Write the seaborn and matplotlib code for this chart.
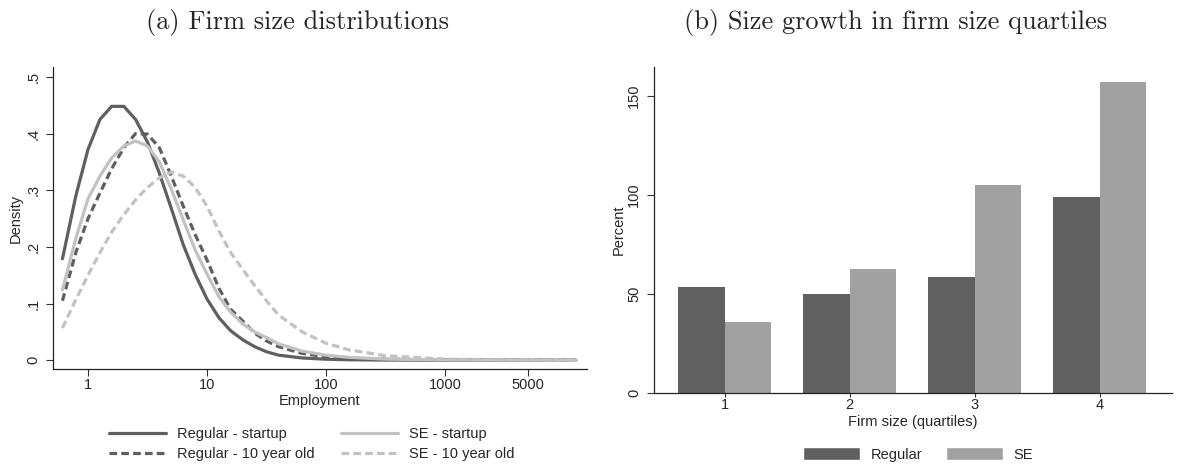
import numpy as np
import pandas as pd
import matplotlib
matplotlib.use("Agg")
import matplotlib.pyplot as plt
import seaborn as sns
from matplotlib.patches import Patch

# ---------------- data ----------------
employment = [0.61, 0.79, 1.0, 1.26, 1.58, 2.0, 2.51, 3.16, 3.98, 5.01, 6.31, 7.94,
              10.0, 12.6, 15.8, 20.0, 25.1, 31.6, 39.8, 63.1, 100, 158, 316, 1000, 3162, 12600]
regular_startup = [0.179, 0.29, 0.372, 0.425, 0.448, 0.448, 0.425, 0.385, 0.33, 0.268, 0.204, 0.152,
                   0.108, 0.075, 0.052, 0.036, 0.024, 0.015, 0.009, 0.004, 0.0018, 0.0008, 0.0003, 0.0001, 0.0, 0.0]
regular_10yr = [0.105, 0.19, 0.25, 0.295, 0.338, 0.375, 0.40, 0.399, 0.375, 0.325, 0.272, 0.222,
                0.177, 0.127, 0.09, 0.069, 0.048, 0.034, 0.024, 0.012, 0.006, 0.0035, 0.002, 0.0006, 0.0002, 0.0]
se_startup = [0.124, 0.215, 0.285, 0.325, 0.357, 0.378, 0.387, 0.378, 0.35, 0.302, 0.248, 0.195,
              0.152, 0.112, 0.085, 0.064, 0.05, 0.04, 0.029, 0.016, 0.009, 0.005, 0.002, 0.0006, 0.0002, 0.0]
se_10yr = [0.057, 0.107, 0.15, 0.19, 0.226, 0.257, 0.283, 0.305, 0.322, 0.332, 0.325, 0.305,
           0.272, 0.228, 0.19, 0.16, 0.132, 0.105, 0.08, 0.05, 0.03, 0.018, 0.008, 0.002, 0.0007, 0.0]

quartiles = ["1", "2", "3", "4"]
regular_growth = [53.6, 50.1, 58.6, 98.9]
se_growth = [35.9, 62.7, 105.0, 156.9]

emp_ticks = [1, 10, 100, 1000, 5000]
density_ticks = [0, 0.1, 0.2, 0.3, 0.4, 0.5]
density_labels = ["0", ".1", ".2", ".3", ".4", ".5"]
percent_ticks = [0, 50, 100, 150]

# ---------------- style ----------------
sns.set_style("white")
plt.rcParams["font.family"] = ["Liberation Sans", "DejaVu Sans"]

W, H = 1196, 465
fig = plt.figure(figsize=(W / 100, H / 100), dpi=100)

def box(x0, y0, x1, y1):
    return [x0 / W, 1 - y1 / H, (x1 - x0) / W, (y1 - y0) / H]

ax1 = fig.add_axes(box(53, 66.7, 587, 369.3))
ax2 = fig.add_axes(box(654.3, 66.7, 1172, 393.3))

DARK = "#5f5f5f"
LIGHT = "#c2c2c2"
LW = 2.3
DASH = (2.4, 1.3)

series = [
    ("Regular - startup", regular_startup, DARK, None),
    ("Regular - 10 year old", regular_10yr, DARK, DASH),
    ("SE - startup", se_startup, LIGHT, None),
    ("SE - 10 year old", se_10yr, LIGHT, DASH),
]
handles = []
for name, vals, col, dash in series:
    df = pd.DataFrame({"Employment": employment, "Density": vals})
    sns.lineplot(data=df, x="Employment", y="Density", ax=ax1, color=col,
                 linewidth=LW, estimator=None, sort=False)
    ln = ax1.lines[-1]
    if dash is not None:
        ln.set_dashes(dash)
    ln.set_label(name)
    handles.append(ln)
if ax1.get_legend() is not None:
    ax1.get_legend().remove()

ax1.set_xscale("log")
ax1.set_xlim(0.508, 15600)
ax1.set_ylim(-0.016, 0.518)
ax1.set_xticks(emp_ticks)
ax1.set_xticklabels([str(t) for t in emp_ticks])
ax1.xaxis.set_minor_locator(matplotlib.ticker.NullLocator())
ax1.set_yticks(density_ticks)
ax1.set_yticklabels(density_labels, rotation=90, va="center")
ax1.set_xlabel("Employment", fontsize=10.5)
ax1.set_ylabel("Density", fontsize=10.5)
ax1.xaxis.set_label_coords(0.5, -0.08)
ax1.yaxis.set_label_coords(-0.056, 0.5)
ax1.tick_params(axis="both", which="major", labelsize=10.5, length=5, width=0.8,
                direction="out", left=True, bottom=True, color="#333333")
ax1.tick_params(axis="y", pad=4)
ax1.tick_params(axis="x", pad=1.5)
for s in ["top", "right"]:
    ax1.spines[s].set_visible(False)
for s in ["left", "bottom"]:
    ax1.spines[s].set_color("#222222")
    ax1.spines[s].set_linewidth(0.9)

fig.legend(handles=handles, labels=[h.get_label() for h in handles],
           ncol=2, loc="upper left", bbox_to_anchor=(109 / W, 1 - 427 / H),
           frameon=False, fontsize=10.5, handlelength=3.9, handletextpad=0.75,
           columnspacing=1.85, labelspacing=0.4, borderpad=0, borderaxespad=0)

# ---------------- bars ----------------
bdf = pd.DataFrame({
    "Quartile": quartiles * 2,
    "Percent": regular_growth + se_growth,
    "Type": ["Regular"] * 4 + ["SE"] * 4,
})
sns.barplot(data=bdf, x="Quartile", y="Percent", hue="Type", ax=ax2,
            palette={"Regular": "#606060", "SE": "#a1a1a1"}, width=0.744,
            saturation=1, legend=False, errorbar=None, linewidth=0)
ax2.set_xlim(-0.563, 3.58)
ax2.set_ylim(0, 164.6)
ax2.set_yticks(percent_ticks)
ax2.set_yticklabels([str(t) for t in percent_ticks], rotation=90, va="center")
ax2.set_xlabel("Firm size (quartiles)", fontsize=10.5)
ax2.set_ylabel("Percent", fontsize=10.5)
ax2.xaxis.set_label_coords(0.5, -0.066)
ax2.yaxis.set_label_coords(-0.055, 0.5)
ax2.tick_params(axis="both", which="major", labelsize=10.5, length=5, width=0.8,
                direction="out", left=True, bottom=True, color="#333333")
ax2.tick_params(axis="y", pad=4.5)
ax2.tick_params(axis="x", length=3, pad=0.5)
for s in ["top", "right"]:
    ax2.spines[s].set_visible(False)
for s in ["left", "bottom"]:
    ax2.spines[s].set_color("#222222")
    ax2.spines[s].set_linewidth(0.9)

bar_handles = [Patch(facecolor="#606060", label="Regular"), Patch(facecolor="#a1a1a1", label="SE")]
fig.legend(handles=bar_handles, ncol=2, loc="upper left", bbox_to_anchor=(803 / W, 1 - 447 / H),
           frameon=False, fontsize=10.5, handlelength=3.9, handleheight=1.0,
           handletextpad=0.75, columnspacing=1.6, borderpad=0, borderaxespad=0)

# ---------------- titles ----------------
fig.text(297 / W, 1 - 22 / H, "(a) Firm size distributions", family="cmr10",
         fontsize=19, ha="center", va="center")
fig.text(896 / W, 1 - 22 / H, "(b) Size growth in firm size quartiles", family="cmr10",
         fontsize=19, ha="center", va="center")

fig.savefig("out.png", dpi=100)
